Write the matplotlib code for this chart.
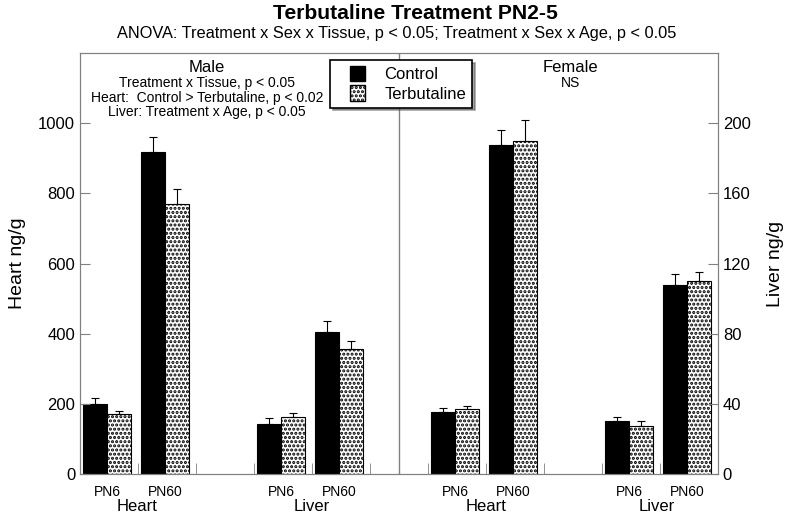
import matplotlib
matplotlib.use("Agg")
import matplotlib.pyplot as plt
import matplotlib.patches as mpatches
from matplotlib.legend_handler import HandlerPatch
import numpy as np

plt.rcParams['font.family'] = ['Liberation Sans', 'DejaVu Sans']
plt.rcParams['hatch.linewidth'] = 1.5

# slots along the x axis: male heart, male liver, female heart, female liver
ages = ["PN6", "PN60"]
heart_slots = [0, 1, 6, 7]
liver_slots = [3, 4, 9, 10]

# heart values (ng/g), male PN6, male PN60, female PN6, female PN60
heart_control = [200, 917, 178, 937]
heart_control_err = [16, 43, 9, 43]
heart_terb = [171, 769, 185, 949]
heart_terb_err = [10, 45, 10, 60]

# liver values (ng/g)
liver_control = [28.6, 81, 30.3, 108]
liver_control_err = [3.3, 6, 2.2, 6]
liver_terb = [32.4, 71.4, 27.4, 110.3]
liver_terb_err = [2.2, 4.2, 2.8, 5]

width = 0.41
grey = "#808080"

fig = plt.figure(figsize=(8, 5.16), dpi=100)
ax = fig.add_axes([0.1, 0.0814, 0.7975, 0.8156])
ax2 = ax.twinx()


def draw(a, slots, ctl, ctl_err, trb, trb_err):
    xs = np.array(slots) + 0.06
    a.bar(xs, ctl, width, align='edge', color='black', edgecolor='black', lw=0.8)
    a.bar(xs + width, trb, width, align='edge', color='white', edgecolor='black',
          hatch='....', lw=0.8)
    a.errorbar(xs + width / 2, ctl, yerr=[np.zeros(len(ctl)), ctl_err], fmt='none',
               ecolor='black', elinewidth=0.8, capsize=3, capthick=0.8)
    a.errorbar(xs + width * 1.5, trb, yerr=[np.zeros(len(trb)), trb_err], fmt='none',
               ecolor='black', elinewidth=0.8, capsize=3, capthick=0.8)


draw(ax, heart_slots, heart_control, heart_control_err, heart_terb, heart_terb_err)
draw(ax2, liver_slots, liver_control, liver_control_err, liver_terb, liver_terb_err)

ax.set_xlim(0, 11)
ax.set_ylim(0, 1200)
ax2.set_ylim(0, 240)
ax.set_yticks(range(0, 1001, 200))
ax2.set_yticks(range(0, 201, 40))

ax.axvline(5.5, color=grey, lw=1)

for a in (ax, ax2):
    for s in a.spines.values():
        s.set_color(grey)
ax.tick_params(axis='y', direction='in', length=7, color=grey, labelsize=12)
ax2.tick_params(axis='y', direction='in', length=7, color=grey, labelsize=12)

# bottom labels
label_pos = [s + 0.47 for s in heart_slots + liver_slots]
ax.set_xticks(sorted(label_pos))
ax.set_xticklabels(ages * 4, fontsize=10)
ax.tick_params(axis='x', which='major', length=0, pad=8)
ax.set_xticks(range(1, 11), minor=True)
ax.tick_params(axis='x', which='minor', direction='in', length=8, color=grey)

for xpos, name in [(0.98, "Heart"), (4.0, "Liver"), (7.0, "Heart"), (9.95, "Liver")]:
    ax.text(xpos, -0.077, name, transform=ax.get_xaxis_transform(), ha='center',
            va='center', fontsize=12)

ax.set_ylabel("Heart ng/g", fontsize=14, labelpad=9)
ax2.set_ylabel("Liver ng/g", fontsize=14, labelpad=12)

fig.text(0.519, 0.973, "Terbutaline Treatment PN2-5", ha='center', va='center',
         fontsize=15.2, fontweight='bold')
fig.text(0.496, 0.936, "ANOVA: Treatment x Sex x Tissue, p < 0.05; Treatment x Sex x Age, p < 0.05",
         ha='center', va='center', fontsize=11.8)

tr = ax.get_xaxis_transform()
ax.text(2.19, 0.967, "Male", transform=tr, ha='center', va='center', fontsize=12)
male_lines = ["Treatment x Tissue, p < 0.05", "Heart:  Control > Terbutaline, p < 0.02",
              "Liver: Treatment x Age, p < 0.05"]
for i, line in enumerate(male_lines):
    ax.text(2.19, 0.928 - i * 0.0345, line, transform=tr, ha='center', va='center',
            fontsize=10)
ax.text(8.45, 0.967, "Female", transform=tr, ha='center', va='center', fontsize=12)
ax.text(8.45, 0.93, "NS", transform=tr, ha='center', va='center', fontsize=10)


def square(legend, orig_handle, xdescent, ydescent, width, height, fontsize):
    s = 11
    return mpatches.Rectangle((width / 2 - s / 2 - xdescent, height / 2 - s / 2 - ydescent), s, s)


h1 = mpatches.Rectangle((0, 0), 1, 1, fc='black', ec='black')
h2 = mpatches.Rectangle((0, 0), 1, 1, fc='white', ec='black', hatch='....')
leg = ax.legend([h1, h2], ["Control", "Terbutaline"], loc='upper left',
                bbox_to_anchor=(0.392, 0.983), fontsize=12, frameon=True, fancybox=False,
                shadow=True, edgecolor='black', handlelength=2.6, handleheight=1.0,
                borderpad=0.35, handletextpad=0.3, labelspacing=0.2, borderaxespad=0,
                handler_map={mpatches.Rectangle: HandlerPatch(patch_func=square)})
leg.get_frame().set_linewidth(1.2)

fig.savefig("out.png", dpi=100)
